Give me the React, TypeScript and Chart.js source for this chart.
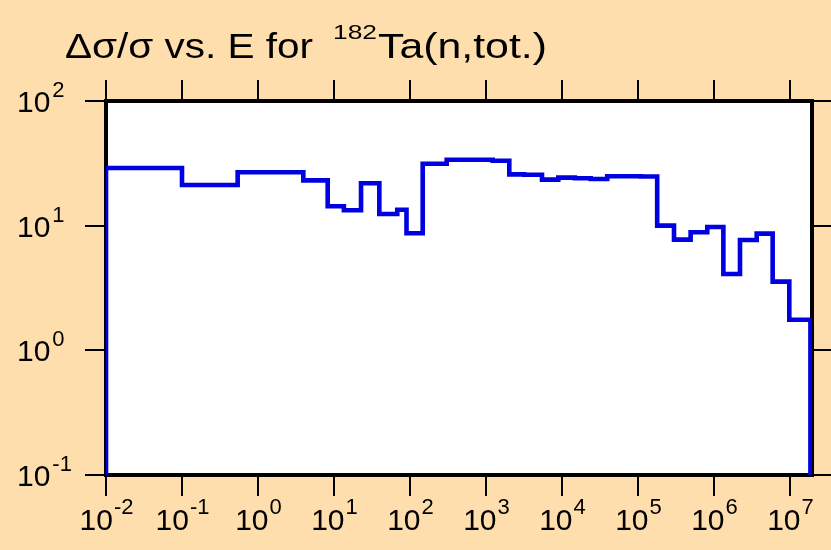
import React, { useEffect, useRef } from "react";
import { Chart, registerables } from "chart.js";

Chart.register(...registerables);

// Group boundaries (eV) and relative uncertainty (%) per group
const edges: number[] = [
  0.01, 0.1, 0.54, 3.95, 8.26, 13.5, 22.7, 39.5, 68, 90,
  147, 304, 1225, 2026, 3190, 5460, 8940, 14800, 23900, 39400,
  64100, 1.09e5, 1.79e5, 2.98e5, 4.93e5, 8.17e5, 1.33e6, 2.2e6, 3.65e6, 5.92e6,
  9.8e6, 1.86e7,
];
const values: number[] = [
  29, 21.2, 26.8, 23.1, 14.3, 13.3, 21.9, 12.4, 13.4, 8.7,
  31.4, 33.8, 33.2, 25.8, 25.6, 23.4, 24.3, 24.0, 23.7, 24.9,
  24.9, 24.8, 10.0, 7.73, 8.85, 9.77, 4.1, 7.67, 8.63, 3.56,
  1.76,
];
const xTickExps: number[] = [-2, -1, 0, 1, 2, 3, 4, 5, 6, 7];
const yTickExps: number[] = [-1, 0, 1, 2];
const titleMain = "\u0394\u03c3/\u03c3 vs. E for";
const titleSup = "182";
const titleTail = "Ta(n,tot.)";

const X_MIN = 0.01;
const X_MAX = 1.95e7;
const Y_MIN = 0.1;
const Y_MAX = 100;

const FONT = '"Liberation Sans", Arial, Helvetica, sans-serif';
const BG = "#FFDEAD";

function fitText(ctx: CanvasRenderingContext2D, text: string, x: number, y: number, font: string, w: number) {
  ctx.save();
  ctx.font = font;
  const m = ctx.measureText(text).width;
  ctx.translate(x, y);
  ctx.scale(w / m, 1);
  ctx.fillText(text, 0, 0);
  ctx.restore();
}

const decorPlugin = {
  id: "decor",
  beforeDraw(chart: any) {
    const { ctx, chartArea: a, width, height } = chart;
    ctx.save();
    ctx.fillStyle = BG;
    ctx.fillRect(0, 0, width, height);
    ctx.fillStyle = "#ffffff";
    ctx.fillRect(a.left, a.top, a.right - a.left, a.bottom - a.top);
    ctx.restore();
  },
  beforeDatasetsDraw(chart: any) {
    const { ctx, chartArea: a, scales } = chart;
    ctx.save();
    ctx.strokeStyle = "#000";
    ctx.lineWidth = 2;
    ctx.beginPath();
    for (const e of xTickExps) {
      const x = Math.round(scales.x.getPixelForValue(Math.pow(10, e)));
      ctx.moveTo(x, a.bottom + 2);
      ctx.lineTo(x, a.bottom + 21);
      ctx.moveTo(x, a.top - 2);
      ctx.lineTo(x, a.top - 21);
    }
    for (const e of yTickExps) {
      const y = Math.round(scales.y.getPixelForValue(Math.pow(10, e)));
      ctx.moveTo(a.left - 2, y);
      ctx.lineTo(a.left - 21, y);
      ctx.moveTo(a.right + 2, y);
      ctx.lineTo(a.right + 22, y);
    }
    ctx.stroke();
    ctx.lineWidth = 4;
    ctx.strokeRect(a.left, a.top, a.right - a.left, a.bottom - a.top);
    ctx.restore();
  },
  afterDraw(chart: any) {
    const { ctx, chartArea: a, scales } = chart;
    ctx.save();
    ctx.fillStyle = "#000";
    ctx.textBaseline = "alphabetic";
    ctx.textAlign = "left";
    const baseFont = `30px ${FONT}`;
    const supFont = `22px ${FONT}`;
    // x tick labels
    for (const e of xTickExps) {
      const x = scales.x.getPixelForValue(Math.pow(10, e));
      ctx.font = baseFont;
      const wb = ctx.measureText("10").width;
      ctx.font = supFont;
      const ws = ctx.measureText(String(e)).width;
      const start = x - (wb + ws) / 2;
      ctx.font = baseFont;
      ctx.fillText("10", start, a.bottom + 55);
      ctx.font = supFont;
      ctx.fillText(String(e), start + wb + 1, a.bottom + 39);
    }
    // y tick labels
    for (const e of yTickExps) {
      const y = scales.y.getPixelForValue(Math.pow(10, e));
      ctx.font = baseFont;
      const wb = ctx.measureText("10").width;
      ctx.fillText("10", 17, y + 11);
      ctx.font = supFont;
      ctx.fillText(String(e), 17 + wb + 2, y - 4);
    }
    // title
    fitText(ctx, titleMain, 65, 58, `35px ${FONT}`, 248);
    fitText(ctx, titleSup, 333, 39, `21px ${FONT}`, 44);
    fitText(ctx, titleTail, 378, 58, `35px ${FONT}`, 169);
    ctx.restore();
  },
};

export default function App() {
  const ref = useRef<HTMLCanvasElement | null>(null);
  useEffect(() => {
    if (!ref.current) return;
    const pts: { x: number; y: number }[] = [];
    pts.push({ x: edges[0], y: Y_MIN });
    for (let i = 0; i < values.length; i++) {
      pts.push({ x: edges[i], y: values[i] });
      pts.push({ x: edges[i + 1], y: values[i] });
    }
    pts.push({ x: edges[edges.length - 1], y: Y_MIN });
    const chart = new Chart(ref.current, {
      type: "line",
      data: {
        datasets: [
          {
            data: pts,
            borderColor: "#0000e0",
            borderWidth: 4.6,
            pointRadius: 0,
            fill: false,
            tension: 0,
            borderJoinStyle: "miter",
            borderCapStyle: "butt",
          } as any,
        ],
      },
      options: {
        animation: false,
        responsive: false,
        maintainAspectRatio: false,
        layout: { padding: { left: 106, right: 19, top: 101, bottom: 75 } },
        scales: {
          x: { type: "logarithmic", min: X_MIN, max: X_MAX, display: false },
          y: { type: "logarithmic", min: Y_MIN, max: Y_MAX, display: false },
        },
        plugins: { legend: { display: false }, tooltip: { enabled: false } },
        events: [],
      },
      plugins: [decorPlugin],
    });
    return () => chart.destroy();
  }, []);
  return (
    <div style={{ position: "fixed", left: 0, top: 0, width: 831, height: 550, background: BG }}>
      <canvas ref={ref} width={831} height={550} style={{ display: "block", width: 831, height: 550 }} />
    </div>
  );
}
